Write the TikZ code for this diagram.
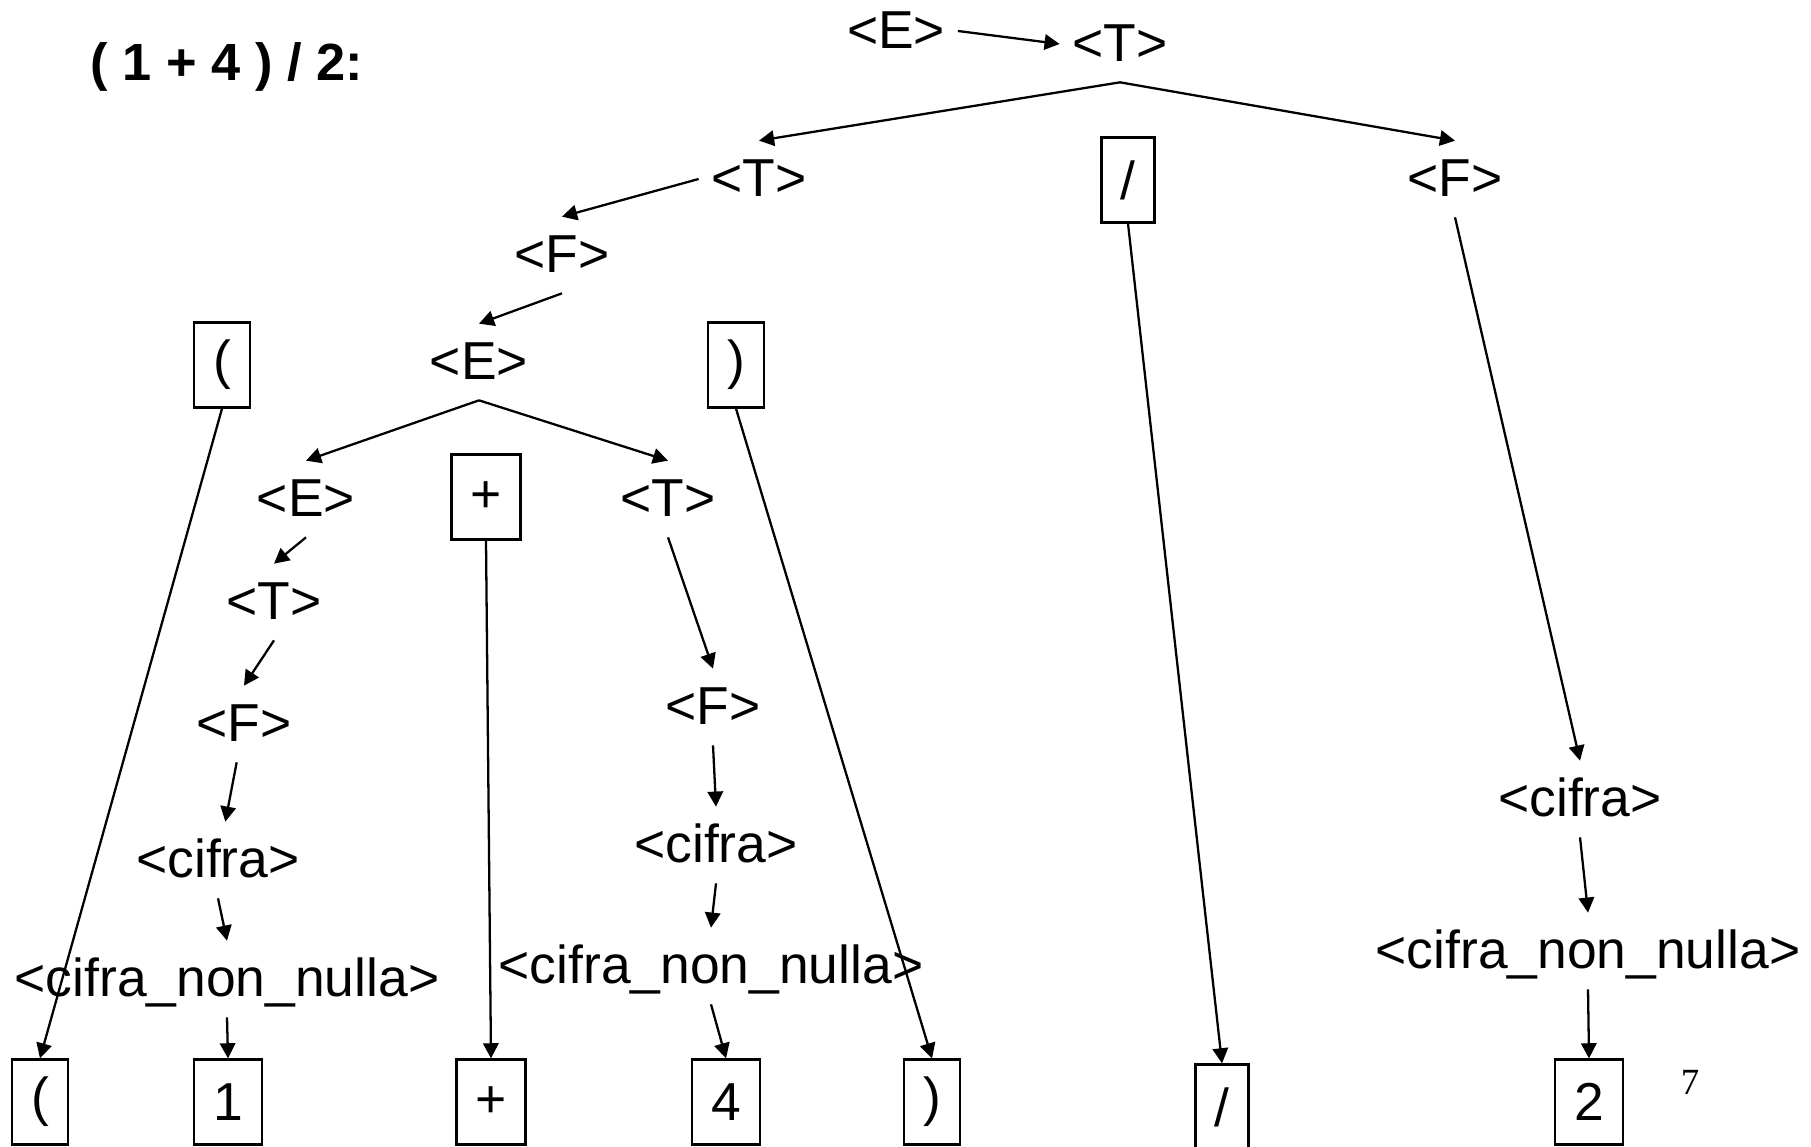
\documentclass[tikz,border=0pt]{standalone}
\usepackage{fontspec}
\setmainfont{Liberation Sans}
\newfontfamily\pagefont{Liberation Serif}
\usetikzlibrary{arrows.meta}

\begin{document}
\begin{tikzpicture}[line width=.65pt,
		>={Triangle[length=4.3pt,width=4.4pt]},
		every node/.style={font=\fontsize{15.2}{18}\selectfont},
		nt/.style={text height=12.2pt, text depth=2.3pt},
		sym/.style={draw, inner xsep=.19cm, minimum height=.85cm}]
		\useasboundingbox (0, 0) rectangle (18.11, -11.47);

		\node[font=\bfseries\fontsize{14.9}{18}\selectfont] (title) at (2.27, -.67) {( 1 + 4 ) / 2:};

		% upper part of the tree
		\node[nt] (e0) at (8.96, -.31) {<E>};
		\node[nt] (t0) at (11.20, -.44) {<T>};
		\node[nt] (t1) at (7.59, -1.79) {<T>};
		\node[sym] (sl1) at (11.28, -1.80) {/};
		\node[nt] (f1) at (14.55, -1.79) {<F>};
		\node[nt] (f2) at (5.62, -2.55) {<F>};
		\node[sym] (lp1) at (2.22, -3.65) {(};
		\node[nt] (e2) at (4.79, -3.62) {<E>};
		\node[sym] (rp1) at (7.36, -3.65) {)};
		\node[nt] (e3) at (3.06, -4.99) {<E>};
		\node[sym] (pl1) at (4.86, -4.97) {+};
		\node[nt] (t3) at (6.68, -4.99) {<T>};

		% left chain
		\node[nt] (t4) at (2.74, -6.02) {<T>};
		\node[nt] (f3) at (2.44, -7.24) {<F>};
		\node[nt] (c1) at (2.18, -8.60) {<cifra>};
		\node[nt] (n1) at (2.27, -9.79) {<cifra\_non\_nulla>};

		% middle chain
		\node[nt] (f4) at (7.13, -7.07) {<F>};
		\node[nt] (c2) at (7.16, -8.45) {<cifra>};
		\node[nt] (n2) at (7.11, -9.66) {<cifra\_non\_nulla>};

		% right chain
		\node[nt] (c3) at (15.80, -7.99) {<cifra>};
		\node[nt] (n3) at (15.88, -9.51) {<cifra\_non\_nulla>};

		% leaves
		\node[sym] (lp2) at (.40, -11.02) {(};
		\node[sym] (one) at (2.28, -11.02) {1};
		\node[sym] (pl2) at (4.91, -11.02) {+};
		\node[sym] (four) at (7.26, -11.02) {4};
		\node[sym] (rp2) at (9.32, -11.02) {)};
		\node[sym] (sl2) at (12.22, -11.07) {/};
		\node[sym] (two) at (15.89, -11.02) {2};

		\node[font=\pagefont\fontsize{10.5}{12}\selectfont] (pg) at (16.90, -10.82) {7};

		\draw[->] (e0.east) -- (t0.west);
		\draw[->] (t1.west) -- (f2.north);
		\foreach \a/\b in {t0/t1, t0/f1, f2/e2, e2/e3, e2/t3, e3/t4, t4/f3,
				c1/n1, n1/one, lp1/lp2, pl1/pl2, t3/f4, f4/c2, c2/n2, n2/four,
				rp1/rp2, sl1/sl2, f1/c3, c3/n3, n3/two}
			\draw[->] (\a.south) -- (\b.north);
		\draw[->] (f3) -- (c1);
	\end{tikzpicture}
\end{document}
